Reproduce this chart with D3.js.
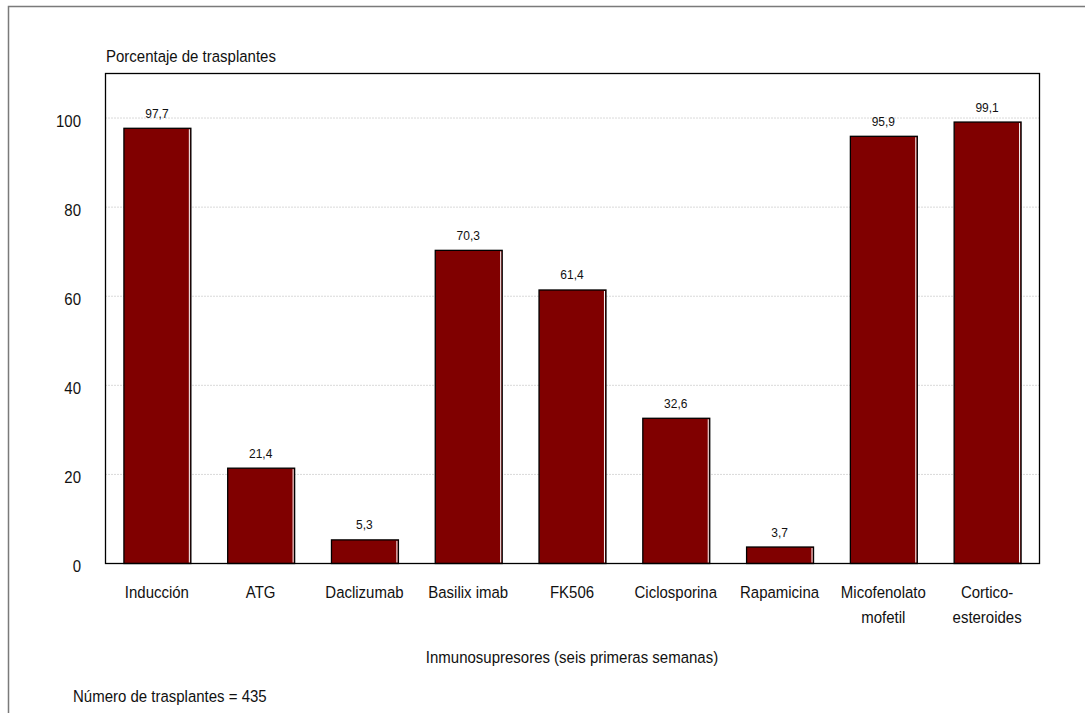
<!DOCTYPE html>
<html>
<head>
<meta charset="utf-8">
<script src="https://cdn.jsdelivr.net/npm/d3@7"></script>
<style>
  body { margin: 0; background: #fff; }
  text { font-family: "Liberation Sans", Arial, sans-serif; fill: #111; }
</style>
</head>
<body>
<svg id="chart" width="1085" height="713"></svg>
<script>
// data
var categories = [["Inducción"], ["ATG"], ["Daclizumab"], ["Basilix imab"], ["FK506"],
  ["Ciclosporina"], ["Rapamicina"], ["Micofenolato", "mofetil"], ["Cortico-", "esteroides"]];
var values = [97.7, 21.4, 5.3, 70.3, 61.4, 32.6, 3.7, 95.9, 99.1];
var valueLabels = ["97,7", "21,4", "5,3", "70,3", "61,4", "32,6", "3,7", "95,9", "99,1"];
var yTicks = [0, 20, 40, 60, 80, 100];

var svg = d3.select("#chart");
// plot area edges (don't call these top/left, window.top is read-only)
var pL = 105, pR = 1039, pT = 73, pB = 563;

// outer frame (runs off the bottom/right of the picture)
svg.append("rect")
  .attr("x", 8.5).attr("y", 6.5)
  .attr("width", 1100).attr("height", 740)
  .attr("fill", "none").attr("stroke", "#7a7a7a").attr("stroke-width", 1.5);

var x = d3.scaleBand()
  .domain(d3.range(values.length))
  .range([pL, pR])
  .paddingInner(0.355)
  .paddingOuter(0.1775);

var y = d3.scaleLinear().domain([0, 110]).range([pB, pT]);

// small helper: text that is a bit taller than wide, like the original
var addText = function(g, tx, ty, str, size, anchor) {
  return g.append("text")
    .attr("transform", "translate(" + tx + "," + ty + ") scale(1,1.12)")
    .attr("text-anchor", anchor || "start")
    .style("font-size", size + "px")
    .text(str);
}

// gridlines
svg.append("g").selectAll("line")
  .data(yTicks.filter(function(d) { return d > 0; }))
  .enter().append("line")
  .attr("x1", pL).attr("x2", pR)
  .attr("y1", function(d) { return y(d) + 0.5; })
  .attr("y2", function(d) { return y(d) + 0.5; })
  .attr("stroke", "#d9d9d9").attr("stroke-width", 1)
  .attr("stroke-dasharray", "2,1");

// y tick labels
var yl = svg.append("g");
yTicks.forEach(function(t) {
  addText(yl, 81, y(t) + 9, t, 15, "end");
});

// bars
var bars = svg.append("g");
bars.selectAll("rect")
  .data(values)
  .enter().append("rect")
  .attr("x", function(d, i) { return x(i) + 0.5; })
  .attr("y", function(d) { return y(d) + 0.5; })
  .attr("width", x.bandwidth())
  .attr("height", function(d) { return y(0) - y(d); })
  .attr("fill", "#800000")
  .attr("stroke", "#000")
  .attr("stroke-width", 1.3);

// thin white highlight inside the right edge
bars.selectAll("line")
  .data(values)
  .enter().append("line")
  .attr("x1", function(d, i) { return x(i) + x.bandwidth() - 1; })
  .attr("x2", function(d, i) { return x(i) + x.bandwidth() - 1; })
  .attr("y1", function(d) { return y(d) + 1.5; })
  .attr("y2", y(0) - 0.5)
  .attr("stroke", "#fff").attr("stroke-width", 1);

// value labels
var vl = svg.append("g");
values.forEach(function(v, i) {
  addText(vl, x(i) + x.bandwidth() / 2, y(v) - 10, valueLabels[i], 12, "middle");
});

// plot frame
svg.append("rect")
  .attr("x", pL + 0.5).attr("y", pT + 0.5)
  .attr("width", pR - pL).attr("height", pB - pT)
  .attr("fill", "none").attr("stroke", "#000").attr("stroke-width", 1.3);

// category labels
var cl = svg.append("g");
categories.forEach(function(lines, i) {
  lines.forEach(function(s, j) {
    addText(cl, x(i) + x.bandwidth() / 2, 598 + j * 25, s, 15, "middle");
  });
});

// titles
addText(svg, 106, 62, "Porcentaje de trasplantes", 15);
addText(svg, (pL + pR) / 2, 663, "Inmunosupresores (seis primeras semanas)", 15, "middle");
addText(svg, 73, 702, "Número de trasplantes = 435", 15);
</script>
</body>
</html>
